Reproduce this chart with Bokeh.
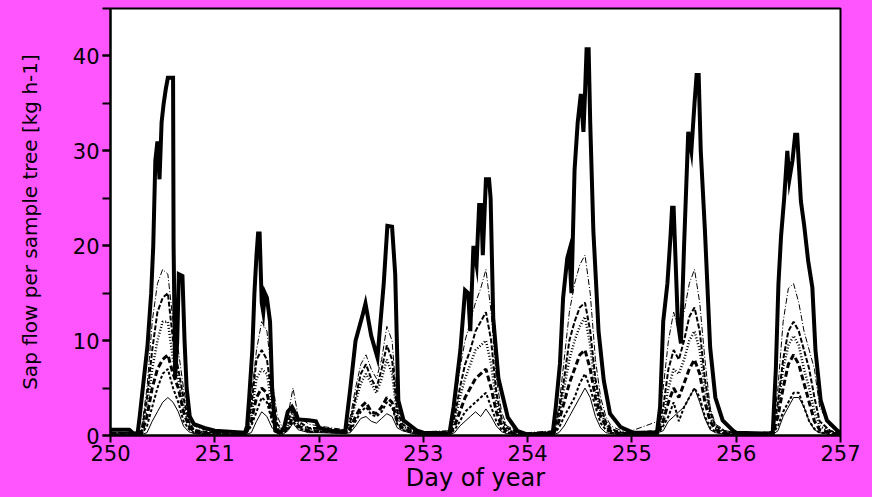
from bokeh.plotting import figure
from bokeh.models import SingleIntervalTicker, FixedTicker, Range1d
from bokeh.embed import file_html
from bokeh.resources import INLINE

# ---------------- data ----------------
# largest sample tree (thick solid line)
T_MAX = [250.00, 250.18, 250.22, 250.26, 250.28, 250.32, 250.355, 250.39, 250.41, 250.43,
         250.45, 250.47, 250.49, 250.51, 250.53, 250.55, 250.60, 250.605, 250.62, 250.64,
         250.655, 250.69, 250.71, 250.73, 250.76, 250.80, 250.90, 251.00,
         251.29, 251.31, 251.33, 251.36, 251.38, 251.40, 251.415, 251.43, 251.45, 251.465, 251.48,
         251.50, 251.53, 251.55, 251.58, 251.62, 251.66, 251.70, 251.74, 251.78, 251.80,
         251.90, 251.97, 252.00, 252.10,
         252.25, 252.30, 252.35, 252.42, 252.445, 252.50, 252.56, 252.62, 252.655, 252.70,
         252.73, 252.76, 252.81, 252.94, 253.00,
         253.25, 253.29, 253.355, 253.40, 253.43, 253.45, 253.48, 253.51, 253.535, 253.555, 253.57,
         253.60, 253.63, 253.645, 253.67, 253.72, 253.81, 253.90, 254.00,
         254.24, 254.27, 254.31, 254.34, 254.38, 254.40, 254.42, 254.45, 254.48, 254.51,
         254.535, 254.55, 254.565, 254.585, 254.60, 254.63, 254.68, 254.73, 254.79, 254.89, 255.01,
         255.24, 255.27, 255.30, 255.34, 255.37, 255.385, 255.40, 255.42, 255.44, 255.47, 255.50,
         255.54, 255.57, 255.60, 255.62, 255.64, 255.66, 255.70, 255.75, 255.80, 255.87, 255.97, 256.00,
         256.35, 256.38, 256.405, 256.43, 256.46, 256.49, 256.51, 256.54, 256.565, 256.585, 256.62,
         256.65, 256.69, 256.73, 256.76, 256.81, 256.87, 256.97, 257.00]
V_MAX = [0.6, 0.6, 0.2, 0.2, 2, 6, 9.5, 15, 20, 29,
         31, 27, 33, 35, 36.5, 37.7, 37.7, 20, 6, 10,
         17, 16.8, 10, 5, 2, 1.2, 0.8, 0.5,
         0.3, 1, 4, 9, 15, 19, 21.3, 21.3, 14, 13, 15,
         14.5, 12, 5, 0.5, 0.3, 0.6, 2.5, 3, 2.2, 1.7,
         1.6, 1.5, 0.8, 0.5,
         0.4, 5, 10, 12.8, 13.9, 10.5, 8.2, 16, 22.1, 22,
         17, 3.7, 1.6, 0.5, 0.3,
         0.2, 3, 9, 15.3, 15, 11, 20, 18, 24.3, 24.3, 19,
         27, 27, 25, 12.4, 6, 1.9, 0.5, 0.1,
         0.2, 3, 7.6, 14.5, 18.7, 19.5, 15, 28, 33, 36,
         32, 36, 40.7, 40.7, 33, 21.6, 11, 5.8, 2.3, 0.9, 0.3,
         0.3, 3, 12, 16, 21, 24, 24, 18, 12, 9.7, 20,
         32, 30, 35, 38, 38, 30, 21.6, 9.3, 4, 1.6, 0.5, 0.3,
         0.2, 7, 16, 21, 25, 30, 27, 29, 31.7, 31.7, 24.7,
         22.3, 18.4, 15.6, 9, 3.7, 1.6, 0.5, 0.3]

# shared time grid of the other sample trees
DAYS = [250, 251, 252, 253, 254, 255, 256]
FRACTIONS = [0.00, 0.25, 0.30, 0.35, 0.40, 0.45, 0.50, 0.55, 0.60, 0.65, 0.70, 0.75, 0.80, 0.90]
END_DAY = 257.0

TREE_A = [0.3, 0.3, 1.0, 5, 12, 16, 17.5, 17, 12, 9, 5, 2, 1, 0.6,
          0.4, 0.3, 0.5, 4, 9, 12, 11, 6, 2, 0.8, 2, 5, 2, 1.2,
          1.0, 0.6, 2, 5, 7.5, 8.5, 7, 6, 8, 11.5, 10, 3, 1.5, 0.7,
          0.4, 0.5, 3, 7, 10, 12, 14, 15.5, 17.5, 13, 6, 2.5, 1, 0.5,
          0.3, 0.5, 3, 8, 13, 16, 18, 19, 15, 8, 4, 2, 1, 0.5,
          0.5, 1.5, 5, 10, 13, 11, 13, 16, 17.5, 14, 8, 3, 1.2, 0.5,
          0.3, 0.2, 0.3, 0.5, 5, 12, 15.5, 16, 14, 11, 9, 7, 3, 1,
          0.3]
TREE_B = [0.3, 0.3, 0.5, 4, 9, 13, 14.5, 15, 10, 7, 4, 1.5, 0.6, 0.4,
          0.3, 0.2, 0.3, 3, 8, 9, 8, 4, 1.2, 0.6, 1.5, 2.8, 1.5, 0.8,
          0.8, 0.5, 1.5, 4, 6.5, 7.5, 6, 5, 7, 9.5, 8, 2.5, 1.2, 0.5,
          0.3, 0.4, 2, 5, 7.5, 9, 11, 12, 13, 10, 4.5, 1.8, 0.8, 0.4,
          0.2, 0.4, 2.5, 6, 10, 12, 13.5, 14, 11, 6, 3, 1.5, 0.7, 0.3,
          0.3, 0.5, 3, 7, 9, 8, 10, 12.5, 13.5, 11, 6, 2.5, 1, 0.4,
          0.2, 0.2, 0.2, 0.4, 3.5, 8, 11, 12, 11, 9, 7, 4, 1.5, 0.5,
          0.2]
TREE_C = [0.2, 0.2, 0.3, 3, 7, 10, 12, 12, 8, 6, 3, 1.2, 0.5, 0.3,
          0.2, 0.2, 0.3, 2, 6, 7, 6.5, 3, 1, 0.5, 1, 2.5, 1.2, 0.7,
          0.6, 0.4, 1.2, 3.5, 5.5, 6.5, 5.5, 4.5, 6, 8, 6.5, 2, 1, 0.4,
          0.3, 0.3, 1.5, 4, 6, 7.5, 9, 9.5, 10, 7.5, 3.5, 1.3, 0.6, 0.3,
          0.2, 0.3, 2, 5, 8, 10, 11.5, 12.5, 9.5, 5, 2.5, 1.2, 0.5, 0.3,
          0.3, 0.4, 2, 5, 7, 6.5, 8, 10, 11, 9, 5, 2, 0.8, 0.3,
          0.2, 0.2, 0.2, 0.3, 3, 7, 9.5, 10.5, 9.5, 7, 5, 2.5, 1, 0.4,
          0.2]
TREE_D = [0.2, 0.2, 0.3, 2, 5, 7, 8, 8.5, 6.5, 5, 2.5, 1, 0.4, 0.2,
          0.2, 0.1, 0.2, 1.5, 4, 5, 4.5, 2, 0.6, 0.3, 0.8, 2, 1, 0.5,
          0.5, 0.3, 0.8, 2, 3, 3.5, 2.5, 2.3, 3, 4, 3.5, 1.5, 0.8, 0.3,
          0.2, 0.2, 1, 2.5, 4, 5, 6, 6.5, 7, 5, 2.5, 1, 0.4, 0.2,
          0.1, 0.2, 1.5, 3.5, 5.5, 7, 8.5, 9, 7, 4, 2, 1, 0.4, 0.2,
          0.2, 0.3, 1.5, 3.5, 5, 4, 5.5, 7, 8, 6.5, 3.5, 1.5, 0.6, 0.2,
          0.1, 0.1, 0.1, 0.2, 2, 5, 7.5, 8.5, 7.5, 5.5, 3.5, 1.5, 0.6, 0.3,
          0.1]
TREE_E = [0.1, 0.1, 0.2, 1, 3, 5, 6.5, 7, 5, 3.5, 1.5, 0.7, 0.3, 0.2,
          0.1, 0.1, 0.2, 1, 2.5, 4, 3.5, 1.5, 0.5, 0.2, 0.6, 1.5, 0.8, 0.4,
          0.4, 0.3, 0.5, 1.5, 2.5, 3, 2.2, 2, 2.5, 3.5, 3, 1.2, 0.6, 0.3,
          0.2, 0.2, 0.6, 1.5, 2.5, 3, 3.5, 4, 4.5, 3, 1.5, 0.6, 0.3, 0.2,
          0.1, 0.2, 0.8, 2, 3, 4, 5.5, 6.5, 5, 3, 1.3, 0.6, 0.3, 0.1,
          0.1, 0.2, 1, 2, 3.5, 1.5, 3, 4, 5, 4, 2, 0.8, 0.4, 0.2,
          0.1, 0.1, 0.1, 0.2, 1, 2.5, 3.5, 4.5, 4.5, 3, 1.5, 0.7, 0.3, 0.2,
          0.1]
TREE_F = [0.1, 0.1, 0.1, 0.3, 1.5, 2.5, 3.5, 4, 3.5, 2.5, 1, 0.4, 0.2, 0.1,
          0.1, 0.1, 0.1, 0.3, 1.5, 2.5, 2, 0.8, 0.3, 0.1, 0.5, 1.3, 0.6, 0.3,
          0.3, 0.2, 0.3, 1, 1.8, 2, 1.5, 1.3, 1.8, 2.3, 2, 0.8, 0.5, 0.2,
          0.1, 0.1, 0.3, 1, 1.5, 2, 2.5, 2, 2.8, 2, 1, 0.4, 0.2, 0.1,
          0.1, 0.1, 0.3, 1, 2, 3, 4, 5, 4, 2, 0.8, 0.3, 0.2, 0.1,
          0.1, 0.3, 0.5, 1.5, 2, 2.5, 3, 4, 5, 3.5, 1.8, 0.6, 0.3, 0.1,
          0.1, 0.1, 0.1, 0.1, 0.5, 2, 3, 4, 4, 3, 1.5, 0.6, 0.3, 0.1,
          0.1]

X_TICKS = [250, 251, 252, 253, 254, 255, 256, 257]
X_LABEL = "Day of year"
Y_LABEL = "Sap flow per sample tree [kg h-1]"

# ---------------- plot ----------------
BG = "#FF55FF"
FONT = "DejaVu Sans"

grid_t = [d + f for d in DAYS for f in FRACTIONS] + [END_DAY]

p = figure(width=872, height=497, output_backend="svg", toolbar_location=None,
           x_range=Range1d(250, 257), y_range=Range1d(0, 45),
           min_border_left=110, min_border_right=32, min_border_top=8, min_border_bottom=62)
p.background_fill_color = "white"
p.border_fill_color = BG
p.outline_line_color = "black"
p.outline_line_width = 2
p.xgrid.visible = False
p.ygrid.visible = False

styles = [
    (TREE_A, 1.0, "6 2 1 2"),
    (TREE_B, 2.0, "5 2"),
    (TREE_C, 2.5, "1 2"),
    (TREE_D, 3.0, "6 3"),
    (TREE_E, 2.0, "3 2"),
    (TREE_F, 1.0, "solid"),
]
for vals, lw, dash in styles:
    p.line(grid_t, vals, line_color="black", line_width=lw, line_dash=dash)

p.line(T_MAX, V_MAX, line_color="black", line_width=4, line_join="miter")

for ax in (p.xaxis[0], p.yaxis[0]):
    ax.axis_line_color = "black"
    ax.axis_line_width = 2
    ax.major_tick_line_color = "black"
    ax.major_tick_line_width = 2
    ax.minor_tick_line_color = "black"
    ax.minor_tick_line_width = 2
    ax.major_label_text_font = FONT
    ax.major_label_text_color = "black"
    ax.major_label_text_font_size = "21px"
    ax.axis_label_text_font = FONT
    ax.axis_label_text_font_style = "normal"
    ax.axis_label_text_color = "black"

p.xaxis.ticker = FixedTicker(ticks=X_TICKS)
p.xaxis.major_tick_out = 7
p.xaxis.major_tick_in = 0
p.xaxis.major_label_standoff = 2
p.xaxis.axis_label = X_LABEL
p.xaxis.axis_label_text_font_size = "24px"
p.xaxis.axis_label_standoff = 0

p.yaxis.ticker = SingleIntervalTicker(interval=10, num_minor_ticks=2)
p.yaxis.major_tick_out = 8
p.yaxis.major_tick_in = 0
p.yaxis.minor_tick_out = 8
p.yaxis.minor_tick_in = 0
p.yaxis.major_label_standoff = 3
p.yaxis.axis_label = Y_LABEL
p.yaxis.axis_label_text_font_size = "20px"
p.yaxis.axis_label_standoff = 28

html = file_html(p, INLINE)
html = html.replace("</head>", "<style>html, body { background: %s; }</style></head>" % BG, 1)
open("out.html", "w").write(html)
